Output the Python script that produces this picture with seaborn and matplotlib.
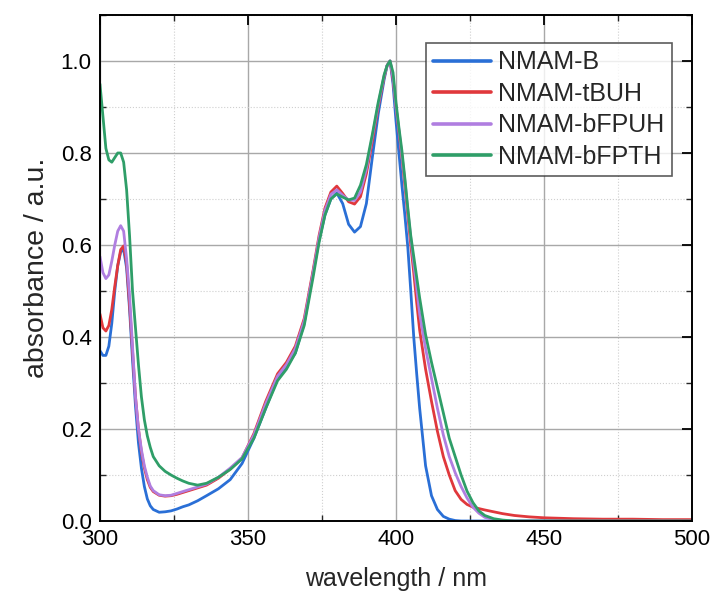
import numpy as np
import pandas as pd
import seaborn as sns
import matplotlib.pyplot as plt
from matplotlib.ticker import MultipleLocator

WAVELENGTH = [300, 301, 302, 303, 304, 305, 306, 307, 308, 309, 310, 311, 312, 313,
              314, 315, 316, 317, 318, 320, 322, 324, 326, 328, 330, 333, 336, 340,
              344, 348, 352, 356, 360, 363, 366, 369, 372, 374, 376, 378, 380, 382,
              384, 386, 388, 390, 392, 394, 396, 397, 398, 399, 400, 401, 402, 403,
              404, 405, 406, 407, 408, 410, 412, 414, 416, 418, 420, 422, 424, 426,
              428, 430, 433, 436, 440, 445, 450, 460, 470, 480, 490, 500]

NMAM_B = [0.37, 0.36, 0.36, 0.38, 0.43, 0.50, 0.555, 0.585, 0.59, 0.55, 0.46, 0.35, 0.25, 0.17,
          0.115, 0.075, 0.048, 0.033, 0.025, 0.019, 0.02, 0.022, 0.026, 0.031, 0.035, 0.044, 0.055, 0.07,
          0.09, 0.125, 0.18, 0.245, 0.31, 0.335, 0.365, 0.43, 0.54, 0.61, 0.665, 0.70, 0.713, 0.69,
          0.645, 0.628, 0.64, 0.69, 0.79, 0.885, 0.96, 0.99, 1.0, 0.95, 0.87, 0.80, 0.73, 0.665,
          0.595, 0.50, 0.40, 0.32, 0.245, 0.12, 0.055, 0.025, 0.01, 0.004, 0.001, 0.0, 0.0, 0.0,
          0.0, 0.0, 0.0, 0.0, 0.0, 0.0, 0.0, 0.0, 0.0, 0.0, 0.0, 0.0]

NMAM_TBUH = [0.45, 0.42, 0.413, 0.425, 0.46, 0.51, 0.555, 0.59, 0.598, 0.56, 0.47, 0.37, 0.27, 0.20,
             0.15, 0.115, 0.09, 0.073, 0.064, 0.056, 0.054, 0.055, 0.058, 0.062, 0.066, 0.072, 0.078, 0.093,
             0.113, 0.137, 0.19, 0.26, 0.32, 0.345, 0.38, 0.44, 0.545, 0.62, 0.68, 0.715, 0.728, 0.712,
             0.694, 0.689, 0.705, 0.755, 0.825, 0.90, 0.965, 0.99, 1.0, 0.96, 0.90, 0.845, 0.79, 0.73,
             0.665, 0.60, 0.54, 0.475, 0.415, 0.33, 0.26, 0.195, 0.14, 0.10, 0.066, 0.047, 0.036, 0.03,
             0.027, 0.024, 0.02, 0.016, 0.012, 0.009, 0.007, 0.005, 0.004, 0.004, 0.003, 0.003]

NMAM_BFPUH = [0.575, 0.54, 0.527, 0.535, 0.565, 0.60, 0.63, 0.642, 0.63, 0.57, 0.49, 0.38, 0.27, 0.20,
              0.155, 0.12, 0.095, 0.076, 0.066, 0.057, 0.055, 0.056, 0.06, 0.064, 0.068, 0.074, 0.08, 0.095,
              0.115, 0.138, 0.187, 0.255, 0.315, 0.34, 0.375, 0.435, 0.54, 0.615, 0.675, 0.71, 0.72, 0.708,
              0.698, 0.697, 0.715, 0.765, 0.835, 0.905, 0.968, 0.99, 1.0, 0.965, 0.90, 0.85, 0.795, 0.74,
              0.675, 0.615, 0.56, 0.505, 0.45, 0.375, 0.31, 0.245, 0.187, 0.14, 0.105, 0.075, 0.05, 0.03,
              0.017, 0.008, 0.003, 0.001, 0.0, 0.0, 0.0, 0.0, 0.0, 0.0, 0.0, 0.0]

NMAM_BFPTH = [0.95, 0.88, 0.81, 0.785, 0.78, 0.79, 0.80, 0.80, 0.78, 0.72, 0.62, 0.50, 0.42, 0.34,
              0.27, 0.22, 0.185, 0.16, 0.14, 0.12, 0.108, 0.10, 0.093, 0.087, 0.082, 0.078, 0.082, 0.095,
              0.112, 0.135, 0.18, 0.245, 0.305, 0.33, 0.365, 0.425, 0.53, 0.605, 0.665, 0.70, 0.711, 0.704,
              0.698, 0.702, 0.73, 0.775, 0.84, 0.91, 0.97, 0.99, 1.0, 0.975, 0.91, 0.855, 0.805, 0.745,
              0.68, 0.62, 0.575, 0.53, 0.485, 0.405, 0.345, 0.29, 0.235, 0.18, 0.14, 0.10, 0.065, 0.04,
              0.022, 0.012, 0.005, 0.002, 0.0, 0.0, 0.0, 0.0, 0.0, 0.0, 0.0, 0.0]

SAMPLES = ["NMAM-B", "NMAM-tBUH", "NMAM-bFPUH", "NMAM-bFPTH"]
COLORS = ["#2a6fd6", "#e0383c", "#b07ee0", "#2f9e68"]


def main():
    sns.set_theme(style="white")
    plt.rcParams["font.family"] = ["Liberation Sans", "DejaVu Sans"]

    frames = []
    for name, values in zip(SAMPLES, [NMAM_B, NMAM_TBUH, NMAM_BFPUH, NMAM_BFPTH]):
        frames.append(pd.DataFrame({"wavelength": WAVELENGTH, "absorbance": values, "sample": name}))
    df = pd.concat(frames, ignore_index=True)

    fig = plt.figure(figsize=(7.12, 5.97), dpi=100)
    ax = fig.add_axes([0.1404, 0.1273, 0.8315, 0.8476])

    sns.lineplot(data=df, x="wavelength", y="absorbance", hue="sample",
                 hue_order=SAMPLES, palette=COLORS, linewidth=2.0, ax=ax,
                 sort=False, estimator=None)

    ax.set_xlim(300, 500)
    ax.set_ylim(0, 1.1)
    ax.xaxis.set_major_locator(MultipleLocator(50))
    ax.xaxis.set_minor_locator(MultipleLocator(25))
    ax.set_yticks([0.0, 0.2, 0.4, 0.6, 0.8, 1.0])
    ax.yaxis.set_minor_locator(MultipleLocator(0.1))
    ax.yaxis.set_major_formatter(plt.FormatStrFormatter("%.1f"))

    ax.grid(which="major", color="#a8a8a8", linewidth=1.0, linestyle="-")
    ax.grid(which="minor", color="#cfcfcf", linewidth=0.8, linestyle=":")
    ax.set_axisbelow(True)

    for spine in ax.spines.values():
        spine.set_color("black")
        spine.set_linewidth(1.4)

    ax.tick_params(which="major", direction="in", length=7, width=1.3,
                   top=True, right=True, labelsize=16, colors="black", pad=6)
    ax.tick_params(which="minor", direction="in", length=4, width=1.0,
                   top=True, right=True, bottom=True, left=True)

    ax.set_xlabel("wavelength / nm", fontsize=18, labelpad=12)
    ax.set_ylabel("absorbance / a.u.", fontsize=20.5, labelpad=8)

    leg = ax.legend(loc="upper right", bbox_to_anchor=(0.966, 0.945), fontsize=18,
                    frameon=True, fancybox=False, handlelength=2.3,
                    borderpad=0.3, labelspacing=0.3, handletextpad=0.3,
                    borderaxespad=0.0)
    leg.get_frame().set_edgecolor("#333333")
    leg.get_frame().set_linewidth(1.2)
    for line in leg.get_lines():
        line.set_linewidth(2.6)

    fig.savefig("out.png", dpi=100)
    plt.close(fig)


if __name__ == "__main__":
    main()
